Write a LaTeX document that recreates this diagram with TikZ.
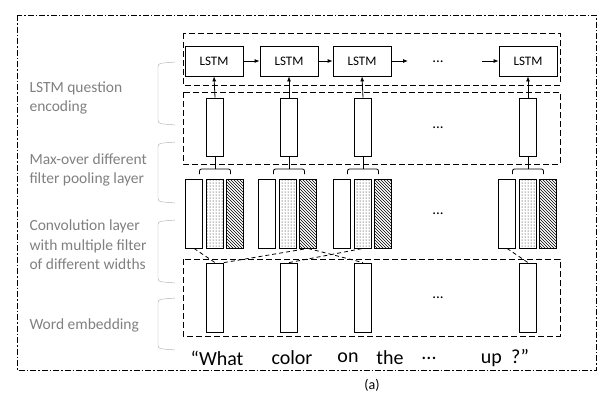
\documentclass[tikz,border=0pt]{standalone}
\usepackage{fontspec}
\setmainfont{Carlito}
\usetikzlibrary{patterns,arrows.meta}
\begin{document}
\begin{tikzpicture}[x=1pt,y=-1pt,
  dbox/.style={draw,thick,dash pattern=on 6pt off 3pt},
  col/.style={draw,thick,fill=white},
  lstm/.style={draw,thick,minimum width=58pt,minimum height=30pt,inner sep=0pt,font=\fontsize{13}{15}\selectfont},
  arr/.style={thick,-{Latex[length=5pt,width=4pt]}},
  conn/.style={thick,dash pattern=on 4pt off 3pt},
  dots/.style={font=\fontsize{15}{17}\selectfont},
  lab/.style={gray,font=\fontsize{15.5}{19.5}\selectfont,align=left,anchor=west},
  brk/.style={gray!70,thin},
  brace/.style={thick,rounded corners=2pt}]
\useasboundingbox (0,0) rectangle (615,405);
\draw[thick,dash pattern=on 6pt off 2pt on 1.5pt off 2pt] (17,15) rectangle (596,370);
\draw[dbox] (183,33) rectangle (560,85);
\draw[dbox] (183,92) rectangle (560,164);
\draw[dbox] (183,259) rectangle (560,336);
% LSTM
\node[lstm] (l1) at (214,61) {LSTM};
\node[lstm] (l2) at (289,61) {LSTM};
\node[lstm] (l3) at (362,61) {LSTM};
\node[lstm] (l4) at (528,61) {LSTM};
\node[dots] (ld) at (438,62) {...};
\coordinate (a3) at (408,61);
\coordinate (a4) at (482,61);
\draw[arr] (l1) -- (l2);
\draw[arr] (l2) -- (l3);
\draw[arr] (l3) -- (a3);
\draw[arr] (a4) -- (l4);
% pooled
\foreach \n/\x in {1/215,2/289,3/363,4/528}{
  \node[col,minimum width=17pt,minimum height=58pt,inner sep=0pt] (p\n) at (\x,127) {};
  \draw[arr] (p\n.north) -- (l\n.south);
  \draw[brace] (\x-15.5,174) -- (\x-15.5,169) -- (\x+15.5,169) -- (\x+15.5,174);
  \draw[thick] (\x,169) -- (p\n.south);
}
\node[dots] (pd) at (438,128) {...};
% conv
\foreach \n/\x in {1/194,2/267,3/342,4/507}{
  \node[col,minimum width=17pt,minimum height=69pt,inner sep=0pt] (c\n a) at (\x,213.5) {};
  \node[col,pattern=dots,minimum width=17pt,minimum height=69pt,inner sep=0pt] (c\n b) at (\x+21,213.5) {};
  \node[col,pattern=north west lines,minimum width=17pt,minimum height=69pt,inner sep=0pt] (c\n c) at (\x+41,213.5) {};
}
\node[dots] (cd) at (438,214) {...};
% embeddings
\foreach \n/\x in {1/215,2/289,3/363,4/528}{
  \node[col,minimum width=17pt,minimum height=69pt,inner sep=0pt] (e\n) at (\x,297.5) {};
}
\node[dots] (ed) at (438,298) {...};
% connections
\draw[conn] (c1a.south) -- (e1.north);
\draw[conn] (e1.north east) -- (c2c.south);
\draw[conn] (c2c.south) -- (e3.north);
\draw[conn] (e2.north) -- (c3b.south);
\draw[conn] (c4a.south) -- (e4.north);
% labels
\node[lab] (t1) at (26,98) {LSTM question\\encoding};
\node[lab] (t2) at (26,170) {Max-over different\\filter pooling layer};
\node[lab] (t3) at (26,245) {Convolution layer\\with multiple filter\\of different widths};
\node[lab] (t4) at (26,325) {Word embedding};
\foreach \a/\b in {62/125,142/203,220/283,298/350}{
  \draw[brk,rounded corners=3pt] (175,\a) -- (158,\a+1.5) -- (158,\b-1.5) -- (175,\b);
}
% sentence
\begin{scope}[every node/.style={font=\fontsize{20}{22}\selectfont}]
\node (w1) at (217,358) {“What};
\node (w2) at (292,358) {color};
\node (w3) at (348,358) {on};
\node (w4) at (390,358) {the};
\node (w5) at (429,358) {...};
\node (w6) at (505,358) {up\ \ ?”};
\end{scope}
\node[font=\fontsize{14}{16}\selectfont] (cap) at (372,385) {(a)};
\end{tikzpicture}
\end{document}
